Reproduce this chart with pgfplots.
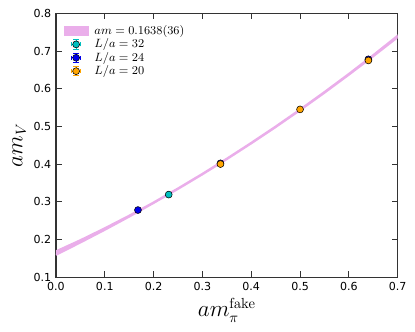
\documentclass[border=0pt]{standalone}
\usepackage[no-math]{fontspec}
\setmainfont{DejaVu Sans}
\usepackage{pgfplots}
\pgfplotsset{compat=1.18}

\definecolor{bandcol}{RGB}{234,174,234}
\definecolor{c32}{RGB}{0,191,191}
\definecolor{c24}{RGB}{0,0,235}
\definecolor{c20}{RGB}{255,165,0}

\begin{document}
\begin{tikzpicture}
\begin{axis}[
  name=ax, scale only axis, width=256.5pt, height=198pt,
  xmin=0, xmax=0.7, ymin=0.1, ymax=0.8,
  xtick={0,0.1,...,0.7}, ytick={0.1,0.2,...,0.8},
  /pgf/number format/fixed, /pgf/number format/fixed zerofill,
  /pgf/number format/precision=1,
  /pgf/number format/assume math mode=true,
  tick label style={font=\fontsize{8.3}{10}\selectfont},
  tick align=inside, major tick length=4.5pt,
  axis line style={black!80, line width=0.9pt},
  major tick style={black!80, line width=0.6pt},
  xlabel={$am_\pi^{\mathrm{fake}}$}, ylabel={$am_V$},
  label style={font=\fontsize{16}{18}\selectfont},
  xlabel style={yshift=1pt}, ylabel style={yshift=-1pt},
  legend style={draw=none, fill=none, at={(0.02,0.97)}, anchor=north west,
    font=\fontsize{9}{10}\selectfont, row sep=-2.2pt, inner sep=1pt,
    nodes={inner xsep=4pt}},
  legend cell align=left,
  clip=true,
]
% fit band: upper edge forward, lower edge backward
\addplot[fill=bandcol, draw=bandcol, line width=1.6pt,
  legend image code/.code={\fill[bandcol] (0pt,-3pt) rectangle (17pt,3pt);}]
  coordinates {
  (0.00,0.1683) (0.05,0.1979) (0.10,0.2296) (0.15,0.2629) (0.20,0.2980)
  (0.25,0.3353) (0.30,0.3740) (0.35,0.4143) (0.40,0.4562) (0.45,0.4996)
  (0.50,0.5446) (0.55,0.5911) (0.60,0.6392) (0.65,0.6890) (0.70,0.7406)
  (0.70,0.7366) (0.65,0.6862) (0.60,0.6372) (0.55,0.5893) (0.50,0.5430)
  (0.45,0.4982) (0.40,0.4550) (0.35,0.4131) (0.30,0.3728) (0.25,0.3341)
  (0.20,0.2968) (0.15,0.2605) (0.10,0.2256) (0.05,0.1919) (0.00,0.1593)
  };
\addlegendentry{$am=0.1638(36)$}

\addplot[only marks, mark=*, mark size=2.6pt,
  mark options={fill=c32, draw=black, line width=0.4pt},
  legend image code/.code={
    \draw[c32, line width=0.5pt] (8pt,-3.5pt) -- (8pt,3.5pt)
      (6pt,-3.5pt) -- (10pt,-3.5pt) (6pt,3.5pt) -- (10pt,3.5pt)
      (4.5pt,0pt) -- (11.5pt,0pt) (4.5pt,-1.5pt) -- (4.5pt,1.5pt) (11.5pt,-1.5pt) -- (11.5pt,1.5pt);
    \filldraw[fill=c32, draw=black, line width=0.4pt] (8pt,0pt) circle (2.6pt);}]
  coordinates {(0.231,0.319)};
\addlegendentry{$L/a=32$}

\addplot[only marks, mark=*, mark size=2.6pt,
  mark options={fill=c24, draw=black, line width=0.4pt},
  legend image code/.code={
    \draw[c24, line width=0.5pt] (8pt,-3.5pt) -- (8pt,3.5pt)
      (6pt,-3.5pt) -- (10pt,-3.5pt) (6pt,3.5pt) -- (10pt,3.5pt)
      (4.5pt,0pt) -- (11.5pt,0pt) (4.5pt,-1.5pt) -- (4.5pt,1.5pt) (11.5pt,-1.5pt) -- (11.5pt,1.5pt);
    \filldraw[fill=c24, draw=black, line width=0.4pt] (8pt,0pt) circle (2.6pt);}]
  coordinates {(0.168,0.278) (0.337,0.402) (0.640,0.678)};
\addlegendentry{$L/a=24$}

\addplot[only marks, mark=*, mark size=2.6pt,
  mark options={fill=c20, draw=black, line width=0.4pt},
  legend image code/.code={
    \draw[c20, line width=0.5pt] (8pt,-3.5pt) -- (8pt,3.5pt)
      (6pt,-3.5pt) -- (10pt,-3.5pt) (6pt,3.5pt) -- (10pt,3.5pt)
      (4.5pt,0pt) -- (11.5pt,0pt) (4.5pt,-1.5pt) -- (4.5pt,1.5pt) (11.5pt,-1.5pt) -- (11.5pt,1.5pt);
    \filldraw[fill=c20, draw=black, line width=0.4pt] (8pt,0pt) circle (2.6pt);}]
  coordinates {(0.337,0.400) (0.500,0.545) (0.640,0.675)};
\addlegendentry{$L/a=20$}
\end{axis}
\path[use as bounding box] ([shift={(-42pt,-40.5pt)}]ax.south west) rectangle ([shift={(13pt,10pt)}]ax.north east);
\end{tikzpicture}
\end{document}
